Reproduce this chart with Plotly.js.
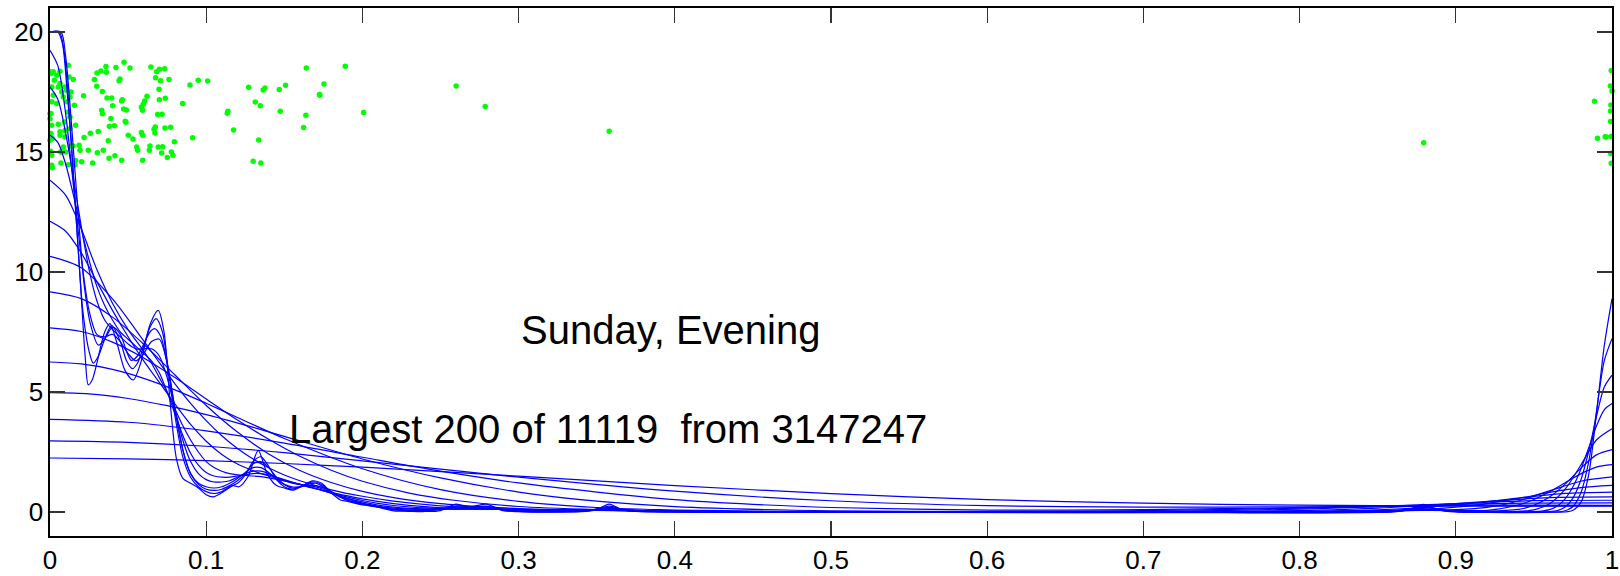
<!DOCTYPE html>
<html>
<head>
<meta charset="utf-8">
<script src="https://cdn.plot.ly/plotly-3.0.1.min.js"></script>
<style>html,body{margin:0;padding:0;background:#fff;}#chart{width:1620px;height:576px;}svg text{white-space:pre;}</style>
</head>
<body>
<div id="chart"></div>
<script>
// ---- data ----
const xTickVals = [0,0.1,0.2,0.3,0.4,0.5,0.6,0.7,0.8,0.9,1];
const xTickText = ['0','0.1','0.2','0.3','0.4','0.5','0.6','0.7','0.8','0.9','1'];
const yTickVals = [0,5,10,15,20];
const yTickText = ['0','5','10','15','20'];

const titleLine1 = 'Sunday, Evening';
const titleLine2 = 'Largest 200 of 11119  from 3147247';

// green points
const dotX = [
0.0006,0.0021,0.0064,0.0043,0.0028,0.0011,0.0064,0.0117,0.0122,0.0149,0.0096,0.0075,0.0107,0.0134,0.0053,0.0011,0.0021,0.0043,0.0085,0.0107,0.0128,0.0156,0.0117,0.0006,0.0000,0.0011,0.0053,0.0092,0.0128,0.0064,0.0096,0.0006,0.0015,0.0000,0.0064,0.0096,0.0128,0.0134,0.0085,0.0100,0.0070,0.0006,0.0011,
0.0011,0.0015,0.0070,0.0117,0.0160,0.0164,0.0004,0.0000,0.0069,
0.0474,0.0358,0.0422,0.0512,0.0646,0.0734,0.0700,0.0683,0.0326,0.0301,0.0361,0.0284,0.0448,0.0442,0.0676,0.0708,0.0762,0.0949,0.1009,0.0896,
0.0299,0.0698,0.0335,0.0215,0.0365,0.0395,0.0463,0.0459,0.0621,0.0606,0.0700,0.0738,0.0849,0.0401,0.0597,0.0585,0.0471,0.0489,0.0331,0.0335,
0.0593,0.0689,0.0717,0.1139,0.1135,0.0390,0.0482,0.0486,0.0380,0.0412,0.0164,0.0674,0.0666,0.0736,0.0772,0.1175,0.0309,0.0258,0.0218,0.0501,
0.0531,0.0585,0.0593,0.0672,0.0913,0.0373,0.0796,0.0186,0.0147,0.0555,0.0561,0.0640,0.0636,0.0693,0.0721,0.0715,0.0192,0.0245,0.0303,0.0341,
0.0416,0.0378,0.0459,0.0593,0.0751,0.0777,0.0787,0.0273,0.0203,
0.1272,0.1376,0.1365,0.1468,0.1508,0.1641,0.1890,0.1754,0.1725,0.1728,0.1314,0.1346,0.1474,0.1638,0.1624,0.2008,0.1336,0.1301,0.1350,
0.2600,0.2786,0.3580,0.8794,
0.9995,0.9989,1.0000,0.9888,0.9993,0.9991,0.9991,0.9993,0.9956,0.9907,0.9993,0.9995,0.9995,0.9962
];
const dotY = [
18.27,18.34,18.36,18.20,17.99,17.71,17.85,18.61,18.13,18.02,17.71,17.50,17.57,17.50,17.71,17.09,17.36,17.02,17.29,17.09,17.29,16.95,16.67,16.60,16.39,16.11,16.16,16.25,16.46,15.84,15.90,15.77,15.56,15.49,15.70,15.63,15.97,15.25,15.21,15.00,15.00,15.03,14.86,
14.45,14.34,14.54,14.47,14.47,14.65,18.33,16.60,15.00,
18.74,18.56,18.52,18.50,18.54,18.47,18.45,18.34,18.38,18.29,18.32,18.02,18.04,17.97,18.09,17.97,18.02,17.99,17.96,17.79,
17.74,17.61,17.52,17.34,17.25,17.25,17.18,17.13,17.32,17.13,17.18,17.24,17.02,16.93,16.99,16.86,16.79,16.75,16.74,16.59,
16.74,16.56,16.57,16.70,16.61,16.40,16.28,16.24,16.07,16.09,16.11,16.04,15.95,16.00,16.03,15.92,15.85,15.78,15.60,15.70,
15.54,15.81,15.70,15.79,15.59,15.47,15.43,15.28,15.25,15.21,15.07,15.25,15.07,15.21,15.22,14.96,15.07,15.07,14.97,15.07,
14.84,14.74,14.66,14.66,14.77,15.00,14.86,14.54,14.59,
17.70,17.67,17.58,17.60,17.78,18.50,18.57,17.83,17.40,17.36,17.08,16.93,16.70,16.53,16.02,16.65,15.50,14.61,14.54,
17.75,16.90,15.86,15.39,
18.40,17.75,17.54,17.11,16.96,16.71,16.27,15.65,15.64,15.57,14.93,14.95,14.53,15.62
];

// blue curves (one per smoothing width, narrowest first)
const k1x = [0,.005,.008,.011,.014,.017,.02,.0225,.0245,.027,.03,.035,.0384,.043,.048,.0533,.058,.064,.0693,.073,.077,.081,.085,.09,.095,.1,.1045,.11,.1173,.121,.127,.1333,.139,.145,.15,.1557,.162,.168,.174,.18,.186,.19,.2,.205,.21,.22,.23,.24,.25,.26,.268,.279,.29,.3,.34,.35,.358,.366,.38,.5,.7,.86,.87,.879,.888,.9,.96,.97,.975,.98,.985,.99,.995,1.0];
const k1y = [20,20,19.5,17.5,15,12,9.0,6.5,5.3,5.5,6.2,7.5,7.85,7.0,5.9,5.5,6.2,7.8,8.4,7.5,4.5,2.2,1.4,1.2,1.0,.72,.63,.8,1.1,1.05,1.5,2.57,1.6,1.1,1.0,.91,1.1,1.3,1.2,.8,.5,.45,.3,.3,.2,.05,.03,.02,.06,.33,.2,.33,.06,.01,.01,.1,.33,.1,.01,0,0,0,.1,.32,.1,0,0,0,.07,.39,1.53,4.07,6.9,8.89];
const k2x = [0,.006,.009,.012,.015,.018,.021,.025,.0277,.031,.035,.0395,.045,.049,.0527,.056,.06,.064,.068,.072,.076,.08,.085,.09,.095,.1,.105,.11,.115,.12,.125,.13,.135,.14,.145,.15,.155,.16,.165,.17,.175,.18,.19,.2,.21,.22,.23,.24,.25,.26,.27,.279,.29,.3,.33,.345,.358,.37,.39,.5,.7,.86,.868,.879,.89,.9,.965,.97,.975,.98,.985,.99,.995,1.0];
const k2y = [20,20,19.2,17.0,14.0,11.0,8.4,6.7,6.2,6.5,7.2,7.78,7.1,6.3,5.97,6.2,6.9,7.7,8.06,7.5,5.8,4.0,2.3,1.45,1.05,.85,.77,.85,1.05,1.2,1.55,2.1,2.3,1.9,1.35,1.05,.95,1.05,1.2,1.25,1.1,.85,.5,.35,.22,.1,.04,.04,.11,.25,.2,.25,.1,.03,.01,.05,.245,.05,.01,0,0,.01,.08,.245,.08,.01,0,.05,.23,.79,2.07,4.16,6.29,7.22];
const k3x = [0,.007,.01,.013,.016,.019,.022,.026,.031,.035,.04,.045,.049,.052,.056,.06,.064,.067,.071,.075,.08,.085,.09,.095,.1,.105,.11,.115,.12,.125,.13,.135,.14,.145,.15,.155,.16,.165,.17,.175,.18,.19,.2,.21,.22,.23,.24,.25,.26,.27,.28,.29,.3,.33,.345,.358,.37,.4,.5,.7,.86,.879,.9,.96,.965,.97,.975,.98,.985,.99,.995,1.0];
const k3y = [20,20,19.0,16.8,14.2,11.6,9.4,7.8,6.95,7.2,7.7,7.4,6.7,6.32,6.5,7.0,7.5,7.64,7.3,6.2,4.3,2.6,1.6,1.15,.95,.9,.95,1.1,1.3,1.6,2.0,2.1,1.85,1.45,1.15,1.0,1.05,1.15,1.2,1.05,.85,.5,.33,.22,.1,.06,.06,.12,.2,.2,.2,.11,.04,.02,.07,.19,.07,.01,0,0,.02,.19,.02,.02,.06,.21,.58,1.32,2.51,3.96,5.2,5.7];
const k4x = [0,.005,.01,.015,.02,.025,.03,.035,.04,.045,.05,.055,.06,.065,.07,.075,.08,.085,.09,.095,.1,.105,.11,.115,.12,.125,.13,.135,.14,.145,.15,.155,.16,.165,.17,.175,.18,.19,.2,.21,.22,.23,.24,.25,.26,.27,.28,.29,.3,.32,.34,.358,.375,.4,.5,.85,.879,.9,.95,.96,.965,.97,.975,.98,.985,.99,.995,1.0];
const k4y = [19.24,18.6,16.6,13.6,10.6,8.4,7.4,7.3,7.4,7.1,6.6,6.3,6.6,7.1,7.2,6.2,4.3,2.6,1.6,1.2,1.05,1.0,1.05,1.2,1.4,1.65,1.85,1.85,1.65,1.35,1.15,1.05,1.05,1.1,1.1,1.0,.8,.5,.32,.2,.12,.08,.08,.12,.16,.17,.16,.1,.05,.03,.06,.14,.06,.01,0,.01,.14,.02,.015,.1,.25,.55,1.05,1.77,2.66,3.57,4.26,4.52];
const k5x = [0,.005,.01,.015,.02,.025,.03,.035,.04,.045,.05,.055,.06,.065,.07,.075,.08,.085,.09,.095,.1,.105,.11,.115,.12,.125,.13,.135,.14,.145,.15,.155,.16,.165,.17,.175,.18,.19,.2,.21,.22,.23,.24,.25,.26,.27,.28,.29,.3,.32,.34,.358,.38,.4,.45,.85,.879,.91,.94,.95,.96,.97,.98,.99,1.0];
const k5y = [17.71,17.2,15.8,13.9,11.9,10.1,8.8,8.0,7.6,7.3,7.0,6.8,6.8,6.8,6.5,5.6,4.3,3.0,2.1,1.6,1.35,1.25,1.25,1.3,1.45,1.6,1.7,1.7,1.6,1.45,1.3,1.2,1.15,1.1,1.05,.95,.8,.55,.37,.24,.16,.12,.11,.12,.13,.14,.13,.1,.07,.05,.07,.11,.06,.02,0,.01,.11,.02,.03,.09,.34,.95,1.95,3.0,3.47];
const k6x = [0,.005,.01,.015,.02,.025,.03,.035,.04,.045,.05,.055,.06,.065,.07,.075,.08,.085,.09,.095,.1,.105,.11,.115,.12,.125,.13,.135,.14,.145,.15,.155,.16,.165,.17,.175,.18,.19,.2,.21,.22,.23,.24,.25,.26,.28,.3,.33,.358,.38,.4,.45,.8,.879,.92,.94,.95,.96,.97,.98,.99,1.0];
const k6y = [15.70,15.4,14.5,13.2,11.8,10.5,9.4,8.6,8.0,7.5,7.2,6.9,6.6,6.3,5.8,5.0,4.1,3.2,2.45,1.95,1.65,1.5,1.45,1.45,1.5,1.55,1.6,1.6,1.55,1.45,1.35,1.25,1.15,1.05,.97,.88,.78,.58,.42,.29,.2,.15,.13,.12,.12,.12,.09,.08,.085,.06,.035,.005,.005,.086,.04,.11,.28,.62,1.16,1.82,2.38,2.60];
const k7x = [0,.01,.02,.03,.04,.05,.06,.065,.07,.075,.08,.085,.09,.095,.1,.105,.11,.115,.12,.125,.13,.135,.14,.15,.16,.17,.18,.19,.2,.21,.22,.24,.26,.28,.3,.33,.36,.4,.45,.5,.8,.879,.9,.92,.94,.95,.96,.97,.98,.99,1.0];
const k7y = [13.82,13.2,11.8,10.1,8.7,7.6,6.7,6.2,5.6,5.0,4.3,3.6,3.0,2.5,2.1,1.85,1.7,1.6,1.55,1.52,1.5,1.47,1.42,1.3,1.15,.98,.8,.63,.48,.36,.27,.17,.13,.12,.1,.08,.07,.04,.01,0,.004,.066,.06,.07,.29,.52,.84,1.22,1.59,1.87,1.97];
const k8x = [0,.01,.02,.03,.04,.05,.06,.07,.08,.09,.1,.11,.12,.13,.14,.15,.16,.17,.18,.19,.2,.22,.24,.26,.28,.3,.33,.36,.4,.45,.5,.6,.8,.86,.88,.9,.92,.94,.96,.98,1.0];
const k8y = [12.11,11.7,10.8,9.6,8.4,7.3,6.3,5.4,4.5,3.65,2.95,2.4,2.0,1.72,1.5,1.32,1.15,.98,.82,.68,.55,.35,.22,.15,.12,.1,.08,.065,.045,.02,.005,0,.01,.05,.08,.1,.19,.46,.88,1.28,1.46];
const k9x = [0,.02,.04,.06,.07,.08,.09,.1,.11,.12,.13,.14,.15,.16,.18,.2,.22,.25,.28,.3,.32,.34,.36,.38,.4,.45,.5,.6,.8,.84,.88,.91,.94,.96,.98,1.0];
const k9y = [10.65,10.18,8.88,7.13,6.22,5.34,4.53,3.81,3.18,2.65,2.21,1.84,1.54,1.30,.925,.655,.455,.255,.15,.111,.088,.071,.056,.044,.031,.008,.001,0,.0125,.037,.109,.264,.568,.817,1.019,1.11];
const k10x = [0,.02,.04,.06,.08,.1,.12,.14,.16,.18,.2,.22,.25,.28,.3,.33,.36,.4,.45,.5,.6,.75,.8,.85,.88,.91,.94,.97,1.0];
const k10y = [9.17,8.89,8.12,6.99,5.71,4.44,3.33,2.42,1.73,1.23,.86,.60,.35,.21,.145,.094,.062,.035,.013,.003,.001,.005,.024,.092,.195,.363,.579,.774,.83];
const k11x = [0,.02,.04,.06,.08,.1,.12,.14,.16,.18,.2,.23,.26,.3,.35,.4,.45,.5,.6,.7,.8,.85,.9,.93,.96,1.0];
const k11y = [7.67,7.52,7.08,6.42,5.60,4.71,3.83,3.03,2.32,1.74,1.28,.79,.48,.23,.105,.045,.021,.007,.001,.004,.059,.165,.354,.487,.60,.63];
const k12x = [0,.02,.04,.06,.08,.1,.12,.15,.2,.25,.3,.35,.4,.5,.6,.7,.8,.85,.9,.95,1.0];
const k12y = [6.25,6.17,5.94,5.57,5.09,4.53,3.94,3.06,1.80,.93,.44,.187,.083,.015,.004,.02,.116,.221,.354,.471,.49];
const k13x = [0,.025,.05,.075,.1,.125,.15,.2,.25,.3,.35,.4,.5,.6,.7,.8,.85,.9,.95,1.0];
const k13y = [4.97,4.92,4.73,4.43,4.06,3.62,3.15,2.21,1.42,.83,.45,.225,.049,.02,.054,.162,.242,.321,.37,.38];
const k14x = [0,.05,.1,.15,.2,.25,.3,.35,.4,.45,.5,.6,.7,.8,.9,.95,1.0];
const k14y = [3.86,3.74,3.38,2.87,2.28,1.70,1.21,.83,.518,.32,.188,.081,.102,.183,.273,.29,.28];
const k15x = [0,.05,.1,.15,.2,.3,.4,.5,.6,.7,.8,.9,1.0];
const k15y = [2.96,2.90,2.74,2.47,2.13,1.45,.866,.468,.263,.201,.214,.251,.265];
const k16x = [0,.05,.1,.15,.2,.3,.4,.5,.6,.7,.8,.9,1.0];
const k16y = [2.25,2.215,2.138,2.02,1.867,1.494,1.102,.765,.518,.367,.287,.254,.24];

const curveX = [k1x,k2x,k3x,k4x,k5x,k6x,k7x,k8x,k9x,k10x,k11x,k12x,k13x,k14x,k15x,k16x];
const curveY = [k1y,k2y,k3y,k4y,k5y,k6y,k7y,k8y,k9y,k10y,k11y,k12y,k13y,k14y,k15y,k16y];

// ---- traces ----
const traces = [];
traces.push({
  type: 'scatter', mode: 'markers', x: dotX, y: dotY,
  marker: {color: '#00ff00', size: 5.5, line: {width: 0}},
  cliponaxis: false, hoverinfo: 'skip', showlegend: false
});
for (let i = 0; i < curveX.length; i++) {
  traces.push({
    type: 'scatter', mode: 'lines', x: curveX[i], y: curveY[i],
    line: {color: '#0000ff', width: 1.2, shape: 'spline', smoothing: 0.8},
    hoverinfo: 'skip', showlegend: false
  });
}

const tickFont = {family: 'Liberation Sans, Arial, sans-serif', size: 26, color: '#000'};
const layout = {
  width: 1620, height: 576,
  margin: {l: 50, r: 8, t: 8, b: 40, pad: 0},
  paper_bgcolor: '#fff', plot_bgcolor: '#fff',
  showlegend: false,
  xaxis: {
    range: [0, 1], tickmode: 'array', tickvals: xTickVals, ticktext: xTickText,
    ticks: 'inside', ticklen: 15, tickwidth: 1.3, tickcolor: '#333',
    showline: true, linecolor: '#000', linewidth: 1.6, mirror: 'ticks',
    showgrid: false, zeroline: false, tickfont: tickFont, ticklabelstandoff: 0
  },
  yaxis: {
    range: [-1, 21], tickmode: 'array', tickvals: yTickVals, ticktext: yTickText,
    ticks: 'inside', ticklen: 15, tickwidth: 1.3, tickcolor: '#333',
    showline: true, linecolor: '#000', linewidth: 1.6, mirror: 'ticks',
    showgrid: false, zeroline: false, tickfont: tickFont
  },
  annotations: [
    {text: titleLine1, x: 0.397, y: 7.57, xref: 'x', yref: 'y', showarrow: false,
     font: {family: 'Liberation Sans, Arial, sans-serif', size: 40, color: '#000'}},
    {text: titleLine2, x: 0.357, y: 3.45, xref: 'x', yref: 'y', showarrow: false,
     font: {family: 'Liberation Sans, Arial, sans-serif', size: 40, color: '#000'}}
  ]
};
Plotly.newPlot('chart', traces, layout, {staticPlot: true, displayModeBar: false});
</script>
</body>
</html>
